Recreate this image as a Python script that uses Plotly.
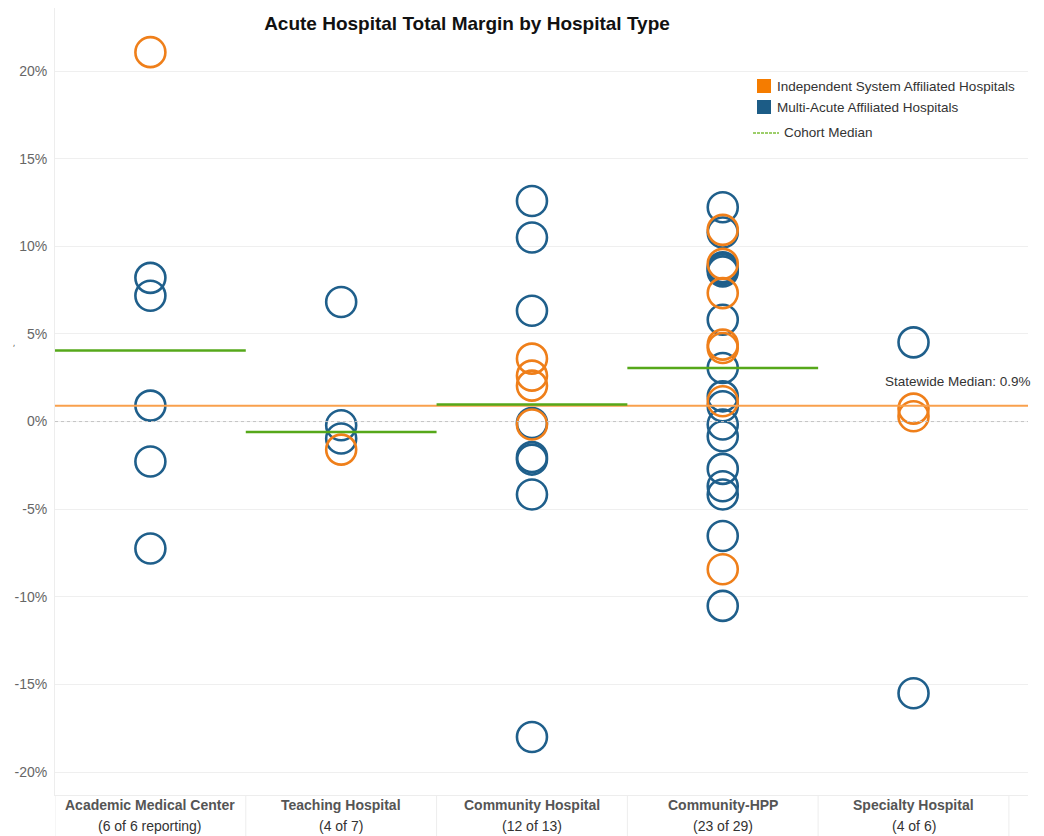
import plotly.graph_objects as go

categories = ["Academic Medical Center", "Teaching Hospital", "Community Hospital",
              "Community-HPP", "Specialty Hospital"]
reporting = ["(6 of 6 reporting)", "(4 of 7)", "(12 of 13)", "(23 of 29)", "(4 of 6)"]

# Total margin (%) per hospital, by category
multi_acute = [
    [8.2, 7.18, 0.91, -2.28, -7.24],
    [6.82, -0.21, -0.97],
    [12.59, 10.5, 6.32, -0.08, -2.03, -2.17, -4.16, -18.0],
    [12.23, 10.79, 8.81, 8.7, 8.57, 5.81, 3.06, 1.44, 0.87, -0.17, -0.84,
     -2.7, -3.69, -4.16, -6.53, -10.52],
    [4.52, -15.5],
]
independent = [
    [21.08],
    [-1.6],
    [3.59, 2.62, 2.05, -0.17],
    [10.94, 9.0, 7.33, 4.39, 4.2, 1.16, -8.43],
    [0.74, 0.3],
]
cohort_median = [4.05, -0.6, 0.98, 3.06, None]
statewide_median = 0.9
y_ticks = [20, 15, 10, 5, 0, -5, -10, -15, -20]

BLUE = "#1F5F8B"
ORANGE = "#EF7F1A"
ORANGE_LINE = "#F9A04C"
GREEN = "#56A81A"
NARROW = "Liberation Sans Narrow, Arial Narrow, Liberation Sans, Arial, sans-serif"
XMIN, XMAX = -0.5, 4.6

# page is rendered with an 8px body margin; figure sized to fit the window
W, H = 1036, 828
PL, PT, PR, PB = 55, 8, 1028, 795  # plot area in page pixels


def px(X):
    return (X - PL) / (PR - PL)


def py(Y):
    return (PB - Y) / (PB - PT)


fig = go.Figure()


def expand(groups):
    xs, ys = [], []
    for i, vals in enumerate(groups):
        for v in vals:
            xs.append(i)
            ys.append(v)
    return xs, ys


bx, by = expand(multi_acute)
ox, oy = expand(independent)

fig.add_trace(go.Scatter(x=bx, y=by, mode="markers", name="Multi-Acute Affiliated Hospitals",
                         marker=dict(symbol="circle-open", size=30, color=BLUE,
                                     line=dict(width=2.6, color=BLUE)),
                         showlegend=False))
fig.add_trace(go.Scatter(x=ox, y=oy, mode="markers", name="Independent System Affiliated Hospitals",
                         marker=dict(symbol="circle-open", size=30, color=ORANGE,
                                     line=dict(width=2.6, color=ORANGE)),
                         showlegend=False))

# zero line (dotted)
fig.add_trace(go.Scatter(x=[XMIN, XMAX], y=[0, 0], mode="lines",
                         line=dict(color="#C4C4C4", width=1, dash="dot"),
                         showlegend=False, hoverinfo="skip"))

# statewide median
fig.add_trace(go.Scatter(x=[XMIN, XMAX], y=[statewide_median, statewide_median], mode="lines",
                         line=dict(color=ORANGE_LINE, width=2), showlegend=False, hoverinfo="skip"))

# cohort medians
for i, m in enumerate(cohort_median):
    if m is None:
        continue
    fig.add_trace(go.Scatter(x=[i - 0.5, i + 0.5], y=[m, m], mode="lines",
                             line=dict(color=GREEN, width=2.5), showlegend=False,
                             hoverinfo="skip"))

# category labels
for i, (c, r) in enumerate(zip(categories, reporting)):
    fig.add_annotation(x=i, y=py(805), xref="x", yref="paper", text="<b>" + c + "</b>",
                       showarrow=False, yanchor="middle",
                       font=dict(family=NARROW, size=14, color="#555555"))
    fig.add_annotation(x=i, y=py(826), xref="x", yref="paper", text=r,
                       showarrow=False, yanchor="middle",
                       font=dict(family=NARROW, size=14, color="#333333"))

# category dividers below plot
for i in range(len(categories) + 1):
    fig.add_shape(type="line", xref="x", yref="paper", x0=i - 0.5, x1=i - 0.5,
                  y0=py(796), y1=py(836), line=dict(color="#EDEDED", width=1))

fig.add_annotation(x=px(1033), y=py(381), xref="paper", yref="paper",
                   text="Statewide Median: 0.9%", showarrow=False,
                   xanchor="right", yanchor="middle",
                   font=dict(family=NARROW, size=13.5, color="#333333"))

# legend (custom)
fig.add_shape(type="rect", xref="paper", yref="paper",
              x0=px(757), x1=px(771), y0=py(93), y1=py(79),
              fillcolor="#F57C00", line=dict(width=0))
fig.add_shape(type="rect", xref="paper", yref="paper",
              x0=px(757), x1=px(771), y0=py(114), y1=py(100),
              fillcolor="#1C5C86", line=dict(width=0))
fig.add_shape(type="line", xref="paper", yref="paper",
              x0=px(753), x1=px(779), y0=py(133), y1=py(133),
              line=dict(color="#7DBE3A", width=1.5, dash="3px,1px"))
for txt, yy, xx in [("Independent System Affiliated Hospitals", 86, 775),
                    ("Multi-Acute Affiliated Hospitals", 107, 775),
                    ("Cohort Median", 133, 782)]:
    fig.add_annotation(x=px(xx), y=py(yy), xref="paper", yref="paper",
                       text=txt, showarrow=False, xanchor="left", yanchor="middle",
                       font=dict(family=NARROW, size=13.5, color="#333333"))

# tiny truncated axis title mark
fig.add_annotation(x=px(14), y=py(342), xref="paper", yref="paper",
                   text=",", showarrow=False, xanchor="center",
                   font=dict(size=9, color="#555555"))

fig.update_layout(
    width=W, height=H,
    margin=dict(l=PL - 8, r=W - (PR - 8), t=PT - 8, b=H - (PB - 8)),
    paper_bgcolor="white", plot_bgcolor="white",
    title=dict(text="<b>Acute Hospital Total Margin by Hospital Type</b>",
               x=(467 - 8) / W, xanchor="center", y=1 - (23 - 8) / H, yanchor="middle",
               font=dict(family=NARROW, size=19, color="#111111")),
    xaxis=dict(range=[XMIN, XMAX], showgrid=False, zeroline=False,
               showticklabels=False, ticks="", showline=True, linecolor="#EDEDED",
               linewidth=1, mirror=False),
    yaxis=dict(range=[-21.31, 23.6], tickvals=y_ticks,
               ticktext=[f"{v}%" for v in y_ticks],
               showgrid=True, gridcolor="#EFEFEF", gridwidth=1, zeroline=False,
               showline=True, linecolor="#EDEDED", linewidth=1,
               tickfont=dict(family="Liberation Sans, Arial, sans-serif", size=14, color="#666666"),
               ticks="", ticklabelstandoff=4),
    showlegend=False,
)

fig.write_html("out.html")
